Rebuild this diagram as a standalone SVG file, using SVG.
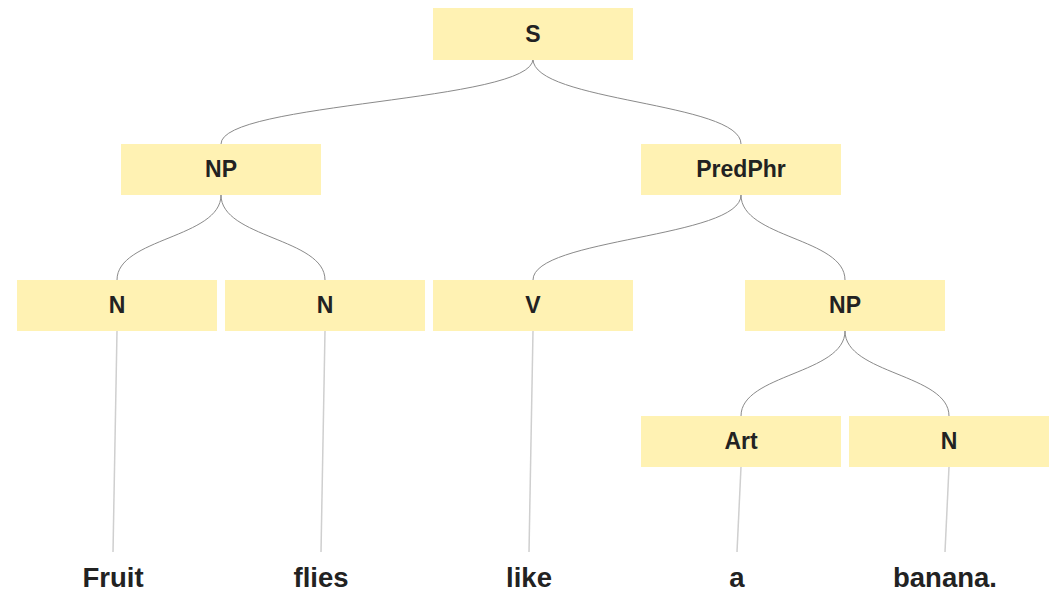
<svg xmlns="http://www.w3.org/2000/svg" width="1056" height="592" viewBox="0 0 1056 592">
  <style>
    .box { fill: #fff2b3; }
    .lbl { font-family: "Liberation Sans", Arial, sans-serif; font-weight: bold; font-size: 23px; fill: #222; text-anchor: middle; }
    .word { font-family: "Liberation Sans", Arial, sans-serif; font-weight: bold; font-size: 27.5px; fill: #222; text-anchor: middle; }
    .edge { fill: none; stroke: #8a8a8a; stroke-width: 1; }
    .leaf { fill: none; stroke: #cfcfcf; stroke-width: 1.5; }
  </style>
  <rect width="1056" height="592" fill="#ffffff"/>

  <!-- connectors: S-curves between phrase boxes, straight lines down to the words -->
  <g id="connectors">
    <path class="edge" d="M533,59 C533,102 221,102 221,144"/>
    <path class="edge" d="M533,59 C533,102 741,102 741,144"/>
    <path class="edge" d="M221,195 C221,238 117,238 117,280"/>
    <path class="edge" d="M221,195 C221,238 325,238 325,280"/>
    <path class="edge" d="M741,195 C741,238 533,238 533,280"/>
    <path class="edge" d="M741,195 C741,238 845,238 845,280"/>
    <path class="edge" d="M845,331 C845,374 741,374 741,416"/>
    <path class="edge" d="M845,331 C845,374 949,374 949,416"/>
    <path class="leaf" d="M117,331 L113,552"/>
    <path class="leaf" d="M325,331 L321,552"/>
    <path class="leaf" d="M533,331 L529,552"/>
    <path class="leaf" d="M741,467 L737,552"/>
    <path class="leaf" d="M949,467 L945,552"/>
  </g>

  <g id="node-S"><rect class="box" x="433" y="8" width="200" height="52"/><text class="lbl" x="533" y="42">S</text></g>
  <g id="node-NP"><rect class="box" x="121" y="144" width="200" height="51"/><text class="lbl" x="221" y="177">NP</text></g>
  <g id="node-PredPhr"><rect class="box" x="641" y="144" width="200" height="51"/><text class="lbl" x="741" y="177">PredPhr</text></g>
  <g id="node-N1"><rect class="box" x="17" y="280" width="200" height="51"/><text class="lbl" x="117" y="313">N</text></g>
  <g id="node-N2"><rect class="box" x="225" y="280" width="200" height="51"/><text class="lbl" x="325" y="313">N</text></g>
  <g id="node-V"><rect class="box" x="433" y="280" width="200" height="51"/><text class="lbl" x="533" y="313">V</text></g>
  <g id="node-NP2"><rect class="box" x="745" y="280" width="200" height="51"/><text class="lbl" x="845" y="313">NP</text></g>
  <g id="node-Art"><rect class="box" x="641" y="416" width="200" height="51"/><text class="lbl" x="741" y="449">Art</text></g>
  <g id="node-N3"><rect class="box" x="849" y="416" width="200" height="51"/><text class="lbl" x="949" y="449">N</text></g>

  <g id="words">
    <text class="word" x="113" y="587">Fruit</text>
    <text class="word" x="321" y="587">flies</text>
    <text class="word" x="529" y="587">like</text>
    <text class="word" x="737" y="587">a</text>
    <text class="word" x="945" y="587">banana.</text>
  </g>
</svg>
